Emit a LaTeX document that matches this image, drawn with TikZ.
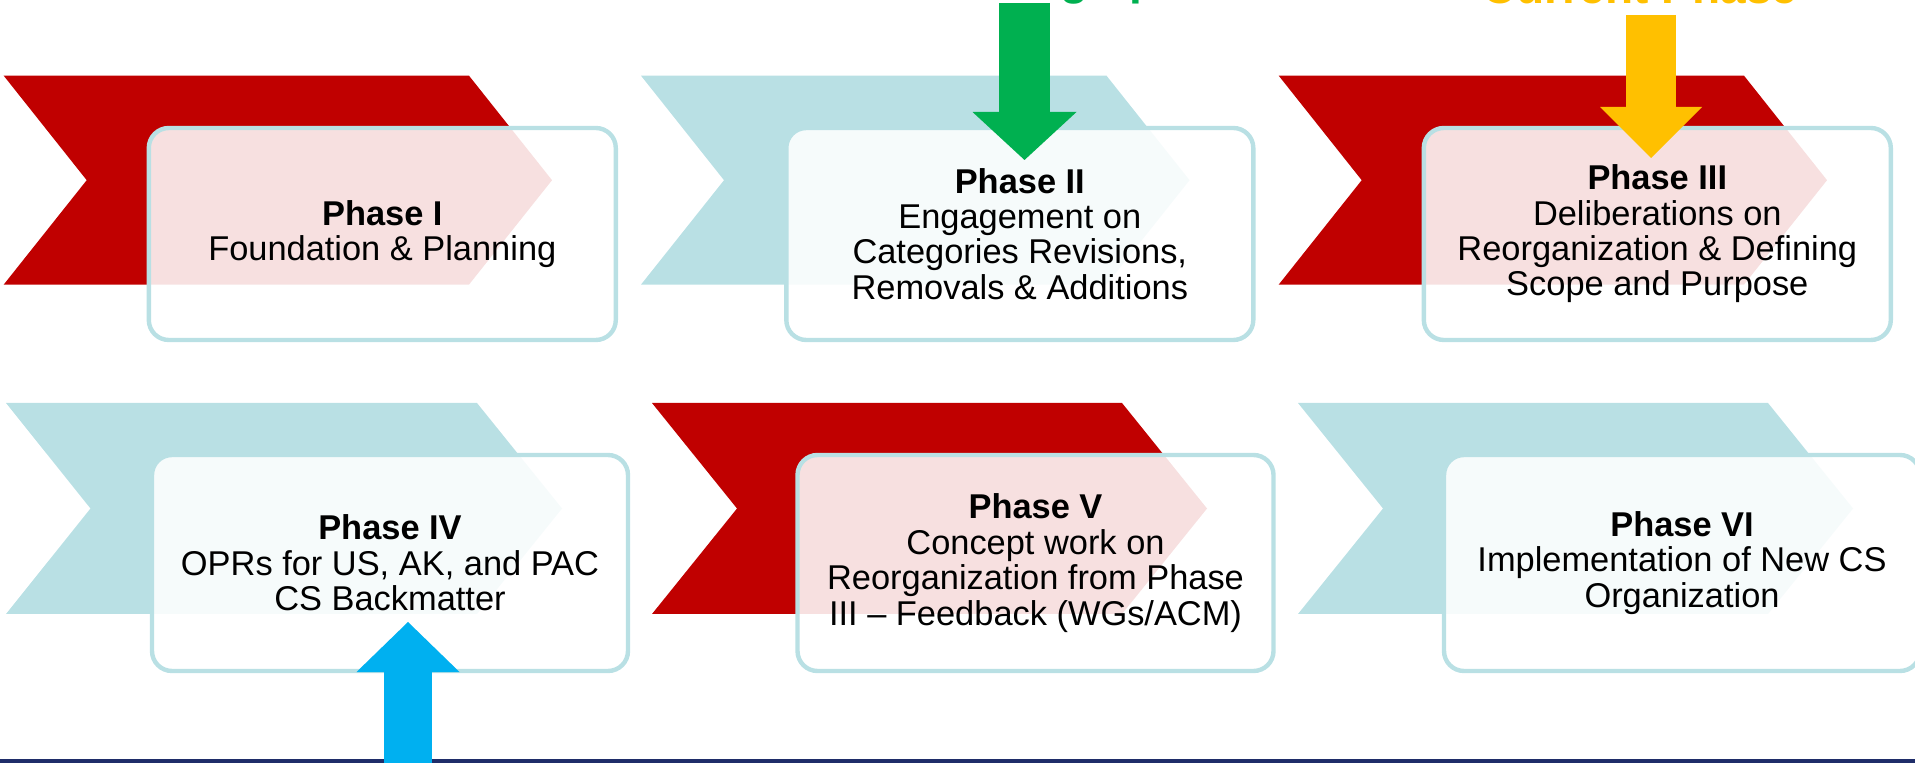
\documentclass[tikz,border=0pt]{standalone}
\usepackage{xcolor}
\usepackage{fontspec}
\setmainfont{Liberation Sans}
\usepackage{tikz}
\usetikzlibrary{arrows.meta}

\definecolor{chevred}{RGB}{192,0,0}
\definecolor{chevteal}{RGB}{185,224,228}
\definecolor{arrgreen}{RGB}{0,176,80}
\definecolor{arryellow}{RGB}{255,192,0}
\definecolor{arrblue}{RGB}{0,176,240}
\definecolor{navyline}{RGB}{31,45,105}

\begin{document}
\begin{tikzpicture}[x=0.5pt,y=-0.5pt,
  redchev/.style={fill=chevred},
  tealchev/.style={fill=chevteal},
  phasebox/.style={draw=chevteal, line width=2.2pt, fill=white, fill opacity=0.88,
    text opacity=1, rounded corners=10pt, minimum width=233.5pt, minimum height=106pt,
    inner sep=0pt, align=center, font=\fontsize{17.2pt}{17.7pt}\selectfont},
  toplabel/.style={inner sep=0pt, anchor=base, font=\fontsize{23pt}{27pt}\selectfont\bfseries},
  blockarrow/.style={line width=#1}]

  \useasboundingbox (0,0) rectangle (1915,763);

  % first row
  \fill[redchev]  (3.7,75.7) -- (469,75.7) -- (552,180.2) -- (469,284.6) -- (3.7,284.6) -- (86.7,180.2) -- cycle;
  \fill[tealchev] (641,75.7) -- (1106.5,75.7) -- (1189.5,180.2) -- (1106.5,284.6) -- (641,284.6) -- (724,180.2) -- cycle;
  \fill[redchev]  (1278.7,75.7) -- (1744,75.7) -- (1827,180.2) -- (1744,284.6) -- (1278.7,284.6) -- (1361.7,180.2) -- cycle;

  \node[phasebox] (phase1) at (382.3,234) {\textbf{Phase I}\\Foundation \& Planning};
  \node[phasebox] (phase2) at (1019.8,234) {\textbf{Phase II}\\Engagement on\\Categories Revisions,\\Removals \& Additions};
  \node[phasebox] (phase3) at (1657.3,234) {\textbf{Phase III}\\Deliberations on\\Reorganization \& Defining\\Scope and Purpose};

  % second row
  \fill[tealchev] (6,403) -- (477,403) -- (562,508.5) -- (477,614) -- (6,614) -- (90.5,508.5) -- cycle;
  \fill[redchev]  (652,403) -- (1122,403) -- (1207,508.5) -- (1122,614) -- (652,614) -- (737,508.5) -- cycle;
  \fill[tealchev] (1298,403) -- (1768,403) -- (1853,508.5) -- (1768,614) -- (1298,614) -- (1383,508.5) -- cycle;

  \node[phasebox, minimum width=238pt, minimum height=108pt] (phase4) at (390,563) {\textbf{Phase IV}\\OPRs for US, AK, and PAC\\CS Backmatter};
  \node[phasebox, minimum width=238pt, minimum height=108pt] (phase5) at (1035.5,563) {\textbf{Phase V}\\Concept work on\\Reorganization from Phase\\III -- Feedback (WGs/ACM)};
  \node[phasebox, minimum width=238pt, minimum height=108pt] (phase6) at (1682,563) {\textbf{Phase VI}\\Implementation of New CS\\Organization};

  \fill[navyline] (0,759) rectangle (1915,763);

  % pointers
  \coordinate (greentop) at (1024.5,3);
  \coordinate (greentip) at (1024.5,160);
  \coordinate (yellowtop) at (1651,15);
  \coordinate (yellowtip) at (1651,158);
  \coordinate (bluefoot) at (408,770);
  \coordinate (bluetip) at (408,622);

  \draw[arrgreen, blockarrow=25.5pt, -{Triangle[width=52pt,length=24pt,line width=0pt]}] (greentop) -- (greentip);
  \draw[arryellow, blockarrow=25pt, -{Triangle[width=51pt,length=25.5pt,line width=0pt]}] (yellowtop) -- (yellowtip);
  \draw[arrblue, blockarrow=24pt, -{Triangle[width=51.5pt,length=25pt,line width=0pt]}] (bluefoot) -- (bluetip);

  \node[toplabel, text=arrgreen] (greenlabel) at (1025,-5.7) {Catching up};
  \node[toplabel, text=arryellow] (yellowlabel) at (1640,4) {Current Phase};
\end{tikzpicture}
\end{document}
